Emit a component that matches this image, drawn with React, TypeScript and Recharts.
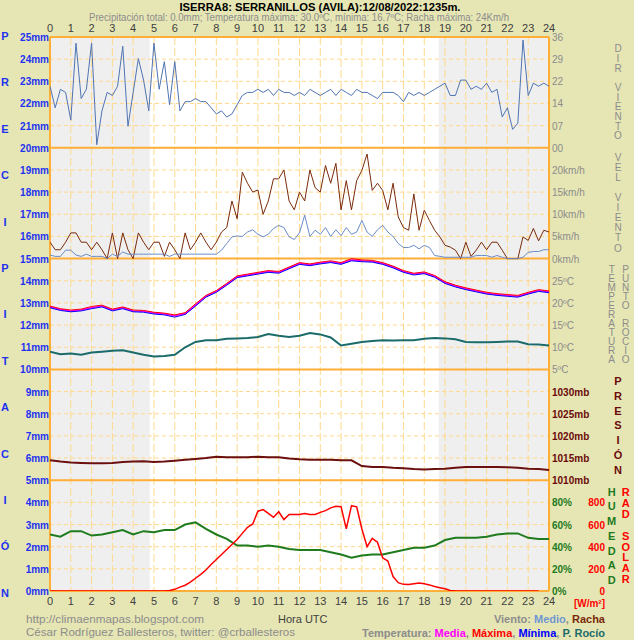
import React from 'react';
import { ComposedChart, Line, XAxis, YAxis, CartesianGrid, ReferenceArea, ReferenceLine } from 'recharts';

// ---------- DATA ----------
// 15-minute samples, 0h..24h
const windDir = [20,13,19,18,9,34,16,19,34,1,12,18,17,20,33,7,18,29,22,12,34,19,28,14,28,12,15,15,16,15,15,13,11,12,10,11,14,17,18,18,19,18,19,17,19,18,18,17,18,17,19,18,17,18,19,17,19,18,17,19,18,18,17,16,18,18,18,17,15,18,17,18,17,18,19,20,21,17,17,22,22,19,20,19,21,18,19,10,13,6,8,35,17,21,20,21,20];
const windGust = [3.7,2,2,3.7,5.8,5.8,3.7,3.7,2,3.7,2,0,5.8,0,5.8,2,0,5.8,3.7,2,3.7,3.7,0.5,3.7,2,0,5.8,2,3.7,5.8,3.7,2,3.7,6,7,13,9,19.5,17,15,15.5,10,13,18,18,20,13,11,15,13,20,16,15,21,17,21.5,11,17.6,11,17.6,19.9,23.6,15.4,17,15.4,11,17,9.4,7,6.4,14.6,6.4,10.9,8.6,6.4,4.9,3,2.6,1.9,0,3.7,0.5,1.9,3.7,2,3.7,3.7,1.9,0,0,0,4.9,4.1,6.8,4,6.4,6];
const windAvg = [0.8,0.5,0.5,1.9,1.9,0.8,0.5,1,0.5,0.5,0.5,0,1,0.5,1.5,1,1,1,1,1,1,1,1,0.5,1,1,1,1,1,1,1,1,1,1.9,3.4,4.9,5.1,5,6,6.5,5.5,4.9,5.5,6.8,7.5,7,4.9,4.3,5.8,9.8,5,6.4,5.5,7,5,6.5,5.2,7,5.5,6,8.6,6,5,6.5,7.5,6,5,3.4,2.5,2.5,3,2.2,3,2.5,0.7,0.5,0.3,0.3,0.3,0.3,0.3,0.3,0.7,0.7,0.7,0.3,0.7,0.3,0,0,0,0.3,1.4,1.6,1.6,2,2];
const radiation = [0,0,0,0,0,0,0,0,0,0,0,0,0,0,0,0,0,0,0,0,0,0,0,5,15,35,52,80,115,150,190,240,285,330,375,420,465,520,575,605,720,735,700,665,715,645,690,690,690,700,690,690,710,725,750,765,760,560,770,760,560,400,475,440,300,270,130,75,60,58,65,72,65,55,40,30,20,5,0,0,0,0,0,0,0,0,0,0,0,0,0,0,0,0,0];

// 30-minute samples, 0h..24h
const tempMedia = [19.1,18.5,18.2,18.4,18.9,19.3,18.4,18.9,18.2,18.1,17.7,17.5,17.1,17.6,19.5,21.5,22.6,24.2,25.9,26.3,26.7,27.1,26.9,27.9,28.9,28.6,29.0,29.3,28.9,29.7,29.5,29.4,28.9,28.1,27.1,26.5,26.8,26.0,24.6,23.8,23.2,22.7,22.2,21.9,21.7,21.5,22.2,22.8,22.5];
const tempMax = [19.3,18.7,18.4,18.6,19.2,19.5,18.6,19.1,18.4,18.3,17.9,17.7,17.3,17.8,19.8,21.7,22.8,24.4,26.1,26.5,26.9,27.3,27.1,28.1,29.1,28.8,29.2,29.5,29.1,30.0,29.7,29.6,29.1,28.3,27.3,26.7,27.0,26.2,24.8,24.0,23.4,22.9,22.4,22.1,21.9,21.7,22.4,23.0,22.7];
const tempMin = [18.9,18.3,18.0,18.2,18.7,19.1,18.2,18.7,18.0,17.9,17.5,17.3,16.8,17.4,19.3,21.3,22.4,24.0,25.7,26.1,26.5,26.9,26.7,27.7,28.7,28.4,28.8,29.1,28.7,29.5,29.3,29.2,28.7,27.9,26.9,26.3,26.6,25.8,24.4,23.6,23.0,22.5,22.0,21.7,21.5,21.3,22.0,22.6,22.3];
const dewPoint = [9.0,8.4,8.6,8.3,8.8,9.0,9.2,9.3,8.8,8.3,7.9,8.0,8.3,10.0,11.2,11.6,11.6,11.9,12.0,12.1,12.3,13.0,12.6,12.3,12.6,13.2,12.9,12.2,10.4,10.8,11.2,11.4,11.6,11.5,11.6,11.6,11.9,12.1,12.0,11.8,11.2,11.1,11.1,11.2,11.3,11.3,10.7,10.6,10.4];
const pressure = [1014.5,1014.2,1014.0,1013.9,1013.8,1013.8,1013.9,1014.1,1014.2,1014.3,1014.1,1014.2,1014.4,1014.6,1014.8,1015.0,1015.3,1015.2,1015.2,1015.2,1015.3,1015.2,1015.2,1014.9,1014.7,1014.6,1014.6,1014.6,1014.5,1014.5,1013.2,1013.0,1013.0,1012.8,1012.7,1012.5,1012.4,1012.5,1012.6,1012.8,1013.0,1013.0,1013.0,1013.0,1012.9,1012.8,1012.6,1012.5,1012.3];
const humidity = [51,49,54,54,50,51,53,55,51,54,53,55,55,60,62,56,51,47,41,41,40,41,40,38,37,37,37,35,33,30,32,33,33,35,37,39,39,41,46,48,48,48,49,51,52,52,48,47,47];

// axis ticks & labels
const hourTicks = [0,1,2,3,4,5,6,7,8,9,10,11,12,13,14,15,16,17,18,19,20,21,22,23,24];
const mmTicks = [0,1,2,3,4,5,6,7,8,9,10,11,12,13,14,15,16,17,18,19,20,21,22,23,24,25];
const dirTicks = [0,7.2,14.4,21.6,28.8,36];
const dirLabels = ['00','07','14','22','29','36'];
const speedTicks = [0,5,10,15,20];
const speedLabels = ['0km/h','5km/h','10km/h','15km/h','20km/h'];
const tempTicks = [5,10,15,20,25];
const tempLabels = ['5ºC','10ºC','15ºC','20ºC','25ºC'];
const presTicks = [1010,1015,1020,1025,1030];
const presLabels = ['1010mb','1015mb','1020mb','1025mb','1030mb'];
const humTicks = [0,20,40,60,80];
const humLabels = ['0%','20%','40%','60%','80%'];
const radTicks = [0,200,400,600,800];
const radLabels = ['0','200','400','600','800'];
const panelLines = [0,5,10,15,20,25];
const nightPeriods = [[0,4.8],[18.7,24]];

// ---------- BUILD ----------
const quarterData = windDir.map((d, i) => ({ h: i * 0.25, dir: d, gust: windGust[i], avg: windAvg[i], rad: radiation[i] }));
const halfData = tempMedia.map((t, i) => ({ h: i * 0.5, med: t, max: tempMax[i], min: tempMin[i], dew: dewPoint[i], pres: pressure[i], hum: humidity[i] }));

const FONT = '"Liberation Sans", Arial, sans-serif';
const GRID_LIGHT = '#FFD98C';
const GRID_STRONG = '#FFAE38';
const RIGHT_X = 552;

function rightTick(ticks: number[], labels: string[], color: string, bold: boolean, anchor: string = 'start', xPos: number = RIGHT_X) {
  return (props: any) => {
    const v = props.payload ? props.payload.value : 0;
    const idx = ticks.indexOf(v);
    return (
      <text x={xPos} y={props.y} dy={4} textAnchor={anchor} fill={color} fontSize={10}
        fontWeight={bold ? 'bold' : 'normal'} fontFamily={FONT}>{idx >= 0 ? labels[idx] : ''}</text>
    );
  };
}

const leftTick = (props: any) => (
  <text x={49} y={props.y} dy={4} textAnchor="end" fill="#1E32F0" fontSize={10} fontWeight="bold" fontFamily={FONT}>
    {props.payload.value}mm
  </text>
);

const xTick = (baseline: number) => (props: any) => (
  <text x={props.x} y={baseline} textAnchor="middle" fill="#404040" fontSize={11} fontFamily={FONT}>
    {props.payload.value}
  </text>
);

// a word written top-to-bottom with upright letters, as one text element (tightly spaced words)
function VerticalWord({ text, x, y0, step, color, bold, size }: any) {
  const fs = size || 10;
  return (
    <text x={x} y={y0 - step / 2} fill={color} fontSize={fs} fontWeight={bold ? 'bold' : 'normal'} fontFamily={FONT}
      style={{ writingMode: 'vertical-rl', textOrientation: 'upright' } as any}
      textLength={text.length * step} lengthAdjust="spacing">{text}</text>
  );
}

// widely spaced letters, one text per letter
function StackedLetters({ text, x, y0, step, color, bold, size }: any) {
  return (
    <g>
      {text.split('').map((ch: string, i: number) => (
        <text key={i} x={x} y={y0 + i * step + 4} textAnchor="middle" fill={color} fontSize={size || 11}
          fontWeight={bold ? 'bold' : 'normal'} fontFamily={FONT}>{ch}</text>
      ))}
    </g>
  );
}

function line(key: string, data: any[], yAxisId: string, color: string, width: number) {
  return (
    <Line key={key} data={data} dataKey={key} xAxisId="bottom" yAxisId={yAxisId} type="linear"
      stroke={color} strokeWidth={width} dot={false} activeDot={false} isAnimationActive={false} />
  );
}

export default function App() {
  const rAxis = { orientation: 'right' as const, width: 1, type: 'number' as const, interval: 0 as const, axisLine: false, tickLine: false, allowDataOverflow: true };
  return (
    <div style={{ position: 'absolute', left: 0, top: 0, width: 634, height: 640, background: '#E6E6B4', overflow: 'hidden' }}>
      <div style={{ position: 'absolute', left: 0, top: 0 }}>
        <ComposedChart width={634} height={640} data={quarterData} margin={{ top: 20, right: 79, bottom: 0, left: 0 }}>
          <XAxis xAxisId="top" orientation="top" type="number" dataKey="h" domain={[0, 24]} ticks={hourTicks} interval={0}
            height={17} axisLine={false} tickLine={false} tick={xTick(32)} allowDataOverflow />
          <XAxis xAxisId="bottom" orientation="bottom" type="number" dataKey="h" domain={[0, 24]} ticks={hourTicks} interval={0}
            height={49} axisLine={false} tickLine={false} tick={xTick(605)} allowDataOverflow />
          <YAxis yAxisId="mm" orientation="left" width={50} type="number" domain={[0, 25]} ticks={mmTicks} interval={0}
            axisLine={false} tickLine={false} tick={leftTick} allowDataOverflow />
          <YAxis yAxisId="dir" {...rAxis} domain={[-144, 36]} ticks={dirTicks} tick={rightTick(dirTicks, dirLabels, '#8C8C8C', false)} />
          <YAxis yAxisId="spd" {...rAxis} domain={[-75, 50]} ticks={speedTicks} tick={rightTick(speedTicks, speedLabels, '#8C8C8C', false)} />
          <YAxis yAxisId="tmp" {...rAxis} domain={[-45, 80]} ticks={tempTicks} tick={rightTick(tempTicks, tempLabels, '#8C8C8C', false)} />
          <YAxis yAxisId="prs" {...rAxis} domain={[985, 1110]} ticks={presTicks} tick={rightTick(presTicks, presLabels, '#6B0A0A', true)} />
          <YAxis yAxisId="hum" {...rAxis} domain={[0, 500]} ticks={humTicks} tick={rightTick(humTicks, humLabels, '#1E7A1E', true)} />
          <YAxis yAxisId="rad" {...rAxis} domain={[0, 5000]} ticks={radTicks} tick={rightTick(radTicks, radLabels, '#FF0000', true, 'end', 605)} />

          <ReferenceArea xAxisId="bottom" yAxisId="mm" x1={0} x2={24} fill="#FFFFFF" fillOpacity={1} stroke="none" zIndex={-300} />
          {nightPeriods.map((p, i) => (
            <ReferenceArea key={'n' + i} xAxisId="bottom" yAxisId="mm" x1={p[0]} x2={p[1]} fill="#EFEFEF" fillOpacity={1} stroke="none" zIndex={-250} />
          ))}
          <CartesianGrid xAxisId="bottom" yAxisId="mm" horizontal={true} vertical={false} stroke={GRID_LIGHT} strokeDasharray="4 3" />
          <CartesianGrid xAxisId="bottom" yAxisId="mm" horizontal={false} vertical={true} stroke={GRID_LIGHT} strokeDasharray="8 3" />
          {panelLines.map((v) => (
            <ReferenceLine key={'p' + v} xAxisId="bottom" yAxisId="mm" y={v} stroke={GRID_STRONG} strokeWidth={2} />
          ))}
          <ReferenceLine xAxisId="bottom" yAxisId="mm" x={0} stroke={GRID_STRONG} strokeWidth={2} />
          <ReferenceLine xAxisId="bottom" yAxisId="mm" x={24} stroke={GRID_STRONG} strokeWidth={2} />

          {line('dir', quarterData, 'dir', '#5074B2', 1)}
          {line('gust', quarterData, 'spd', '#7A2A0A', 1)}
          {line('avg', quarterData, 'spd', '#6A8CC8', 1)}
          {line('med', halfData, 'tmp', '#FF00FF', 1.5)}
          {line('max', halfData, 'tmp', '#FF0000', 1)}
          {line('min', halfData, 'tmp', '#0000FF', 1)}
          {line('dew', halfData, 'tmp', '#1B6B6B', 2)}
          {line('pres', halfData, 'prs', '#6B0F0F', 2)}
          {line('hum', halfData, 'hum', '#1E7B1E', 2)}
          {line('rad', quarterData, 'rad', '#FF0000', 1.5)}
        </ComposedChart>
      </div>

      <svg width={634} height={640} style={{ position: 'absolute', left: 0, top: 0, pointerEvents: 'none' }}>
        <text x={320} y={11} textAnchor="middle" fontSize={11} fontWeight="bold" fill="#000" fontFamily={FONT}
          textLength={281} lengthAdjust="spacingAndGlyphs">ISERRA8: SERRANILLOS (AVILA):12/08/2022:1235m.</text>
        <text x={299} y={21} textAnchor="middle" fontSize={10} fill="#8C8C8C" fontFamily={FONT}
          textLength={420} lengthAdjust="spacingAndGlyphs">Precipitación total: 0.0mm; Temperatura máxima: 30.0ºC, mínima: 16.7ºC; Racha máxima: 24Km/h</text>

        <StackedLetters text="PRECIPITACIÓN" x={5} y0={36} step={46.4} color="#1E32F0" bold={true} size={11} />
        <VerticalWord text="DIR VIENTO" x={618} y0={48.3} step={9.8} color="#8C8C8C" bold={false} />
        <VerticalWord text="VEL VIENTO" x={618} y0={156.7} step={10.2} color="#8C8C8C" bold={false} />
        <VerticalWord text="TEMPERATURA" x={611.7} y0={268.3} step={9.2} color="#8C8C8C" bold={false} />
        <VerticalWord text="PUNTO ROCIO" x={625.7} y0={268.3} step={9.2} color="#8C8C8C" bold={false} />
        <StackedLetters text="PRESIÓN" x={618} y0={380.7} step={14.9} color="#6B0A0A" bold={true} size={11} />
        <StackedLetters text="HUMEDAD" x={611.7} y0={491.7} step={14.7} color="#1E7A1E" bold={true} size={11} />
        <VerticalWord text="RAD SOLAR" x={625.7} y0={491.7} step={11} color="#FF0000" bold={true} size={11} />

        <text x={605} y={607} textAnchor="end" fontSize={10} fontWeight="bold" fill="#FF0000" fontFamily={FONT}>[W/m²]</text>

        <text x={278} y={623} fontSize={11} fill="#404040" fontFamily={FONT}>Hora UTC</text>
        <text x={26} y={623} fontSize={11} fill="#8C8C8C" fontFamily={FONT}
          textLength={178} lengthAdjust="spacingAndGlyphs">http://climaenmapas.blogspot.com</text>
        <text x={26} y={636} fontSize={11} fill="#8C8C8C" fontFamily={FONT}
          textLength={269} lengthAdjust="spacingAndGlyphs">César Rodríguez Ballesteros, twitter: @crballesteros</text>

        <text x={605} y={623} textAnchor="end" fontSize={11} fontWeight="bold" fontFamily={FONT}>
          <tspan fill="#8C8C8C">Viento: </tspan>
          <tspan fill="#6E96D2">Medio</tspan>
          <tspan fill="#8C8C8C">, </tspan>
          <tspan fill="#7A2A0A">Racha</tspan>
        </text>
        <text x={605} y={637} textAnchor="end" fontSize={11} fontWeight="bold" fontFamily={FONT}>
          <tspan fill="#8C8C8C">Temperatura: </tspan>
          <tspan fill="#FF00FF">Media</tspan>
          <tspan fill="#8C8C8C">, </tspan>
          <tspan fill="#FF0000">Máxima</tspan>
          <tspan fill="#8C8C8C">, </tspan>
          <tspan fill="#0000FF">Mínima</tspan>
          <tspan fill="#8C8C8C">, </tspan>
          <tspan fill="#1B6B6B">P. Rocío</tspan>
        </text>
      </svg>
    </div>
  );
}
